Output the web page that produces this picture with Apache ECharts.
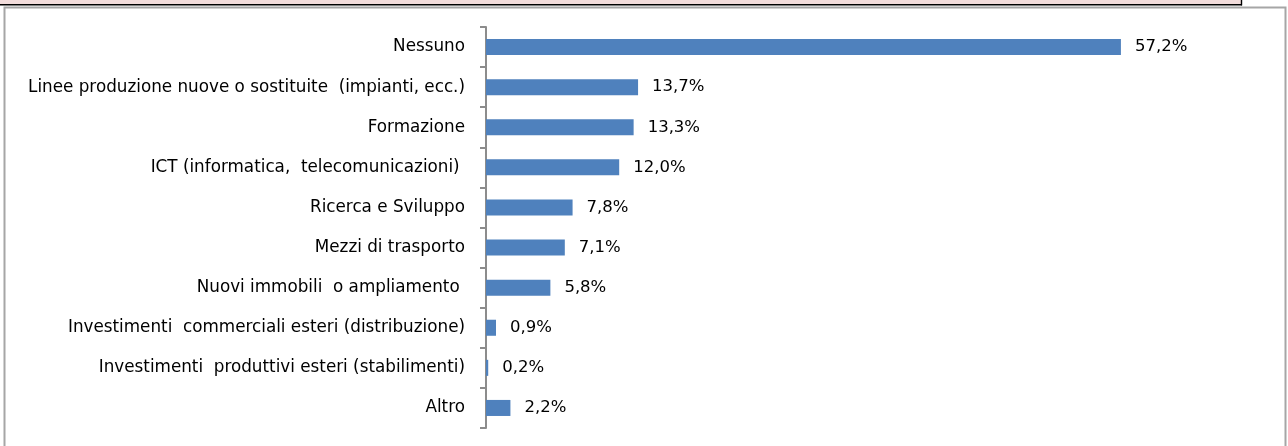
<!DOCTYPE html>
<html>
<head>
<meta charset="utf-8">
<script src="https://cdn.jsdelivr.net/npm/echarts@6/dist/echarts.min.js"></script>
<style>
html,body{margin:0;padding:0;background:#fff;}
#c{width:1288px;height:446px;}
</style>
</head>
<body>
<div id="c"></div>
<script>
var categories = [
  "Nessuno",
  "Linee produzione nuove o sostituite  (impianti, ecc.)",
  "Formazione",
  "ICT (informatica,  telecomunicazioni) ",
  "Ricerca e Sviluppo",
  "Mezzi di trasporto",
  "Nuovi immobili  o ampliamento ",
  "Investimenti  commerciali esteri (distribuzione)",
  "Investimenti  produttivi esteri (stabilimenti)",
  "Altro"
];
var values = [57.2, 13.7, 13.3, 12.0, 7.8, 7.1, 5.8, 0.9, 0.2, 2.2];

var chart = echarts.init(document.getElementById('c'));
var fontFam = "'DejaVu Sans', sans-serif";
chart.setOption({
  animation: false,
  backgroundColor: '#ffffff',
  grid: { left: 486, right: 25, top: 27, bottom: 18, containLabel: false },
  xAxis: {
    type: 'value', min: 0, max: 70,
    show: false
  },
  yAxis: {
    type: 'category',
    data: categories,
    inverse: true,
    axisLine: { show: true, lineStyle: { color: '#8c8c8c', width: 2 } },
    axisTick: { show: true, length: 6, lineStyle: { color: '#8c8c8c', width: 2 } },
    axisLabel: { color: '#000', fontSize: 16.8, fontFamily: fontFam, margin: 21 }
  },
  series: [{
    type: 'bar',
    data: values,
    barCategoryGap: '60%',
    itemStyle: { color: '#4f81bd' },
    label: {
      show: true, position: 'right', distance: 14,
      color: '#000', fontSize: 16.5, fontFamily: fontFam,
      formatter: function (p) { return p.value.toFixed(1).replace('.', ',') + '%'; }
    }
  }],
  graphic: [
    { type: 'rect', shape: { x: 0, y: 0, width: 1242, height: 4 }, style: { fill: '#f2dcdb' }, silent: true },
    { type: 'line', shape: { x1: 0, y1: 4.7, x2: 1242, y2: 4.7 }, style: { stroke: '#000', lineWidth: 1.4 }, silent: true },
    { type: 'line', shape: { x1: 1241.5, y1: 0, x2: 1241.5, y2: 5.4 }, style: { stroke: '#000', lineWidth: 1.4 }, silent: true },
    { type: 'rect', shape: { x: 4.5, y: 7.5, width: 1281, height: 460 }, style: { fill: null, stroke: '#a6a6a6', lineWidth: 2 }, silent: true }
  ]
});
</script>
</body>
</html>
